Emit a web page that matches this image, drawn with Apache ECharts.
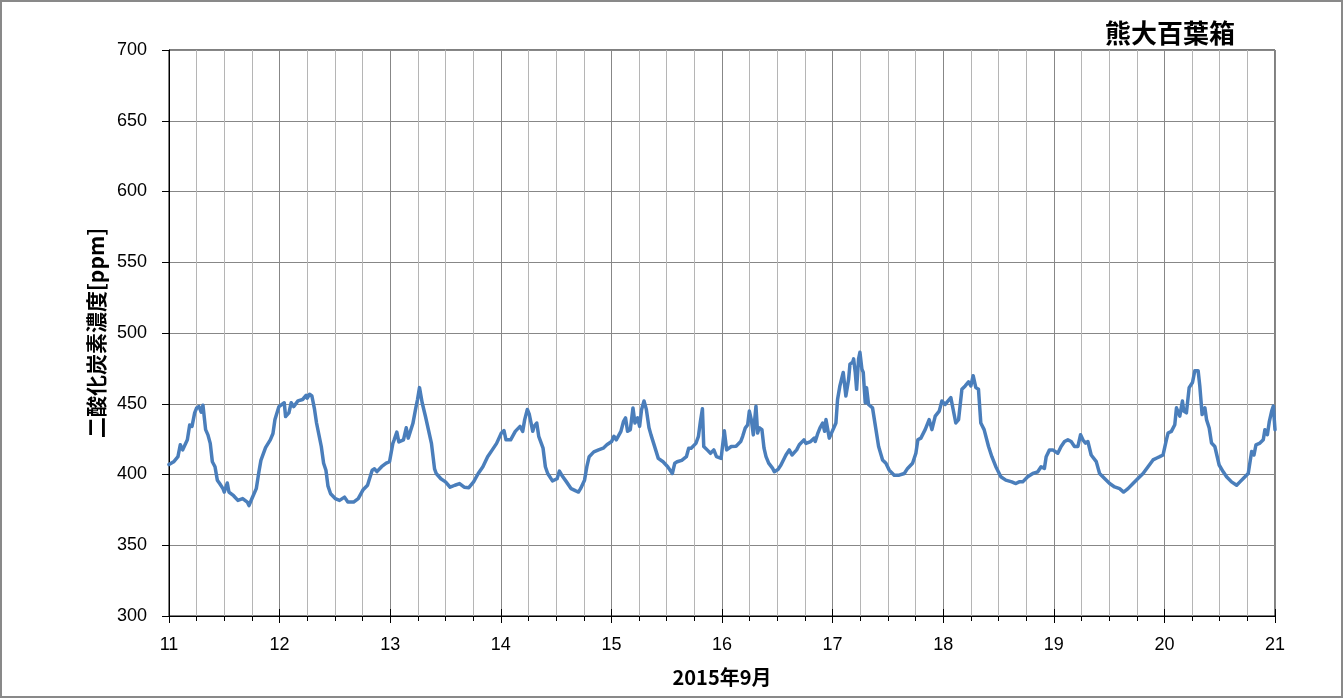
<!DOCTYPE html>
<html>
<head>
<meta charset="utf-8">
<script src="https://cdn.jsdelivr.net/npm/echarts@6/dist/echarts.min.js"></script>
<style>
html,body{margin:0;padding:0;background:#fff;}
#chart{width:1343px;height:698px;position:absolute;left:0;top:0;}
#frame{position:absolute;left:0;top:0;width:1343px;height:698px;box-sizing:border-box;border:2px solid #898989;pointer-events:none;}
</style>
</head>
<body>
<div id="chart"></div>
<div id="frame"></div>
<script>
const chartTitle = '熊大百葉箱';
const yName = '二酸化炭素濃度[ppm]';
const xName = '2015年9月';
const xTicks = [11, 12, 13, 14, 15, 16, 17, 18, 19, 20, 21];
const yTicks = [300, 350, 400, 450, 500, 550, 600, 650, 700];

// time in days of September 2015
const times = [
 11.000,11.042,11.081,11.102,11.123,11.166,11.187,11.208,11.232,11.250,11.271,11.292,11.307,11.331,11.352,11.373,11.392,11.416,11.437,11.458,11.488,11.500,11.527,11.542,11.584,11.623,11.666,11.708,11.723,11.750,11.789,11.813,11.831,11.873,11.916,11.940,11.958,11.994,
 12.042,12.054,12.084,12.105,12.127,12.166,12.208,12.241,12.250,12.271,12.292,12.316,12.334,12.377,12.398,12.419,12.437,12.461,12.503,12.542,12.587,12.617,12.627,12.669,12.711,12.753,12.795,12.837,12.858,12.880,12.922,12.964,12.994,
 13.024,13.036,13.060,13.078,13.120,13.145,13.163,13.205,13.229,13.247,13.265,13.289,13.319,13.331,13.373,13.401,13.416,13.458,
 13.500,13.542,13.585,13.627,13.669,13.711,13.754,13.796,13.838,13.881,13.923,13.962,
 14.005,14.029,14.047,14.089,14.131,14.174,14.198,14.216,14.240,14.258,14.289,14.301,14.325,14.343,14.382,14.403,14.424,14.467,14.509,14.530,14.551,14.594,14.636,14.678,14.702,14.721,14.757,14.778,14.799,14.841,14.884,14.926,14.959,
 15.002,15.023,15.044,15.086,15.110,15.128,15.146,15.171,15.195,15.213,15.237,15.255,15.273,15.295,15.316,15.340,15.358,15.382,15.424,15.467,15.509,15.551,15.573,15.594,15.636,15.678,15.699,15.721,15.764,15.787,15.805,15.823,15.835,15.866,15.896,15.926,15.950,15.992,
 16.000,16.021,16.042,16.084,16.127,16.169,16.187,16.211,16.232,16.247,16.265,16.283,16.307,16.322,16.337,16.361,16.380,16.398,16.422,16.458,16.473,16.506,16.533,16.548,16.578,16.608,16.633,16.675,16.699,16.717,16.741,16.759,16.801,16.834,16.843,16.867,16.886,16.910,16.928,16.940,16.970,16.985,
 17.030,17.045,17.066,17.096,17.120,17.145,17.157,17.181,17.190,17.205,17.217,17.235,17.247,17.265,17.277,17.295,17.307,17.325,17.340,17.361,17.392,17.416,17.452,17.482,17.512,17.557,17.602,17.648,17.678,17.723,17.753,17.771,17.798,17.837,17.873,17.898,17.928,17.964,17.988,
 18.018,18.069,18.084,18.114,18.139,18.169,18.199,18.229,18.250,18.271,18.295,18.319,18.340,18.370,18.410,18.440,18.476,18.521,18.566,18.620,18.657,18.687,
 18.719,18.764,18.810,18.855,18.885,18.915,18.931,18.961,18.991,
 19.006,19.036,19.066,19.097,19.127,19.157,19.187,19.218,19.242,19.263,19.287,19.308,19.338,19.384,19.414,19.459,19.505,19.550,19.595,19.631,19.671,19.716,19.761,19.807,19.852,19.897,19.927,19.958,19.988,
 20.018,20.033,20.063,20.094,20.109,20.139,20.163,20.175,20.199,20.224,20.254,20.275,20.305,20.320,20.341,20.366,20.381,20.405,20.426,20.456,20.471,20.495,20.532,20.562,20.607,20.653,20.683,20.713,20.758,20.789,20.810,20.828,20.864,20.894,20.909,20.931,20.949,20.970,20.985,21.000
];
// CO2 concentration [ppm]
const co2 = [
 407,409,412.6,421,417.4,424.5,435,434,443.6,447,448,444,449,431.7,428,422,409,405.5,396,393.6,390,387.6,394,387.6,385,381.7,383,380.5,378,383,390,402,410,419,424.5,429,438.8,448,
 450.7,441,443.6,450.7,448,452,453,456,454,456.7,455.5,446,436.4,419.8,408,403,392,386.4,383,381.7,384,380.5,381.7,380.5,383,389,392.4,403,404,402,405.5,408,409,
 422,424.5,430,423,424.5,433,425.7,436,446,453,461.4,450.7,441,440,422,404,400.7,397,
 394.8,391,392.4,393.6,391,390.7,394.8,400.7,405.5,412.6,417.4,422,
 429.3,431,424.5,424.5,430.5,434,430.5,438.8,446,442.4,430.5,434,436.4,427,418.6,405.5,400.7,395.5,397,402.4,399.5,394.8,390,388.4,387.6,390,396,405.5,412.6,416,417.4,418.6,421,
 423.3,427,424.5,430.5,437.6,440,430.5,431.7,447,436.4,440,434,446,452,446,433,428,422,411.4,409,405.5,400.7,408,409,410,412.6,418.6,418.6,422,427,437.6,446.4,419.8,417.4,415,417.4,412.6,411.4,
 412.6,431,417.4,419.8,420,423.3,427,433,435,444.8,438.8,428,448.3,429.3,433,431.7,418.6,412.6,408,404.3,402,403.6,406.7,408,413.8,417.4,413.8,417.4,421,420,424.5,422,423.3,425.7,423.3,429.3,433,436.4,430.5,438.8,425.7,424.5,
 436.4,453.1,462.6,472.1,455.5,467.4,478,479.3,481.7,472.1,460.2,481.7,486.4,474.5,472.1,450.7,461.4,449.5,450.7,447.1,431.7,419.8,410.3,407.9,403.1,399.5,399.5,400.7,404.3,407.9,415,424.5,425.7,431.7,438.8,431.7,441.2,444.8,451.9,
 449.5,454.3,453.1,436.4,438.8,460.2,462.6,465.5,462.6,469.8,461.4,460.2,436.4,431.7,419.8,412.6,405.5,398.4,396,394.8,393.6,394.8,
 394.8,398.4,400.7,401.9,405.5,404.3,412.6,417.4,417.4,
 418.6,415,419.8,423.3,424.5,423.3,419.8,419.8,428.1,424.5,422.2,423.3,413.8,409.1,400.7,397.2,393.6,391.2,390,387.6,390,393.6,397.2,400.7,405.5,410.3,411.5,412.6,413.8,
 424.5,429.3,430.5,435.2,447.1,441.2,451.9,444.8,443.6,461.4,465,473.3,473.3,462.6,442.4,447.1,438.8,432.9,422.2,419.8,421,406.7,401.9,398.4,394.8,392.4,394.8,397.2,400.7,416.2,413.8,421,422.2,424.5,431.7,428.1,437.6,444.8,448.3,431.7
];

const seriesData = times.map((t, i) => [t, co2[i]]);
const numFont = '"Liberation Sans", Arial, sans-serif';
const jpFont = '"Noto Sans CJK JP", sans-serif';

const chart = echarts.init(document.getElementById('chart'), null, {renderer: 'canvas'});
chart.setOption({
  animation: false,
  backgroundColor: '#fff',
  title: {
    text: chartTitle,
    left: 1100, top: 15,
    textStyle: {fontFamily: jpFont, fontWeight: 'bold', fontSize: 26, color: '#000'}
  },
  grid: {left: 169, right: 68, top: 50, bottom: 82, show: true, borderColor: '#000', borderWidth: 1, backgroundColor: 'transparent'},
  xAxis: [{
    type: 'value', min: xTicks[0], max: xTicks[xTicks.length - 1], interval: 1,
    name: xName, nameLocation: 'middle', nameGap: 51,
    nameTextStyle: {fontFamily: jpFont, fontWeight: 'bold', fontSize: 20, color: '#000'},
    axisLine: {show: true, onZero: false, lineStyle: {color: '#000', width: 1}},
    axisTick: {show: true, length: 7, lineStyle: {color: '#000'}},
    minorTick: {show: true, splitNumber: 4, length: 5, lineStyle: {color: '#000'}},
    axisLabel: {fontFamily: numFont, fontSize: 18, color: '#000', margin: 20, formatter: v => String(v)},
    splitLine: {show: true, lineStyle: {color: '#878787', width: 1}},
    minorSplitLine: {show: true, lineStyle: {color: '#b5b5b5', width: 1}}
  }, {
    type: 'value', min: xTicks[0], max: xTicks[xTicks.length - 1], interval: 1, position: 'bottom',
    axisLine: {show: false},
    axisTick: {show: true, inside: true, length: 7, lineStyle: {color: '#000'}},
    axisLabel: {show: false},
    splitLine: {show: false}
  }],
  yAxis: {
    type: 'value', min: yTicks[0], max: yTicks[yTicks.length - 1], interval: 50,
    name: yName, nameLocation: 'middle', nameRotate: 90, nameGap: 61,
    nameTextStyle: {fontFamily: jpFont, fontWeight: 'bold', fontSize: 21, color: '#000'},
    axisLine: {show: true, lineStyle: {color: '#000', width: 1}},
    axisTick: {show: true, length: 7, lineStyle: {color: '#000'}},
    axisLabel: {fontFamily: numFont, fontSize: 18, color: '#000', margin: 22},
    splitLine: {show: true, lineStyle: {color: '#878787', width: 1}}
  },
  series: [{
    type: 'line', xAxisIndex: 0, data: seriesData, showSymbol: false, symbol: 'none',
    lineStyle: {color: '#4a7ebb', width: 3.5, join: 'round', cap: 'round'},
    z: 5
  }]
});
</script>
</body>
</html>
